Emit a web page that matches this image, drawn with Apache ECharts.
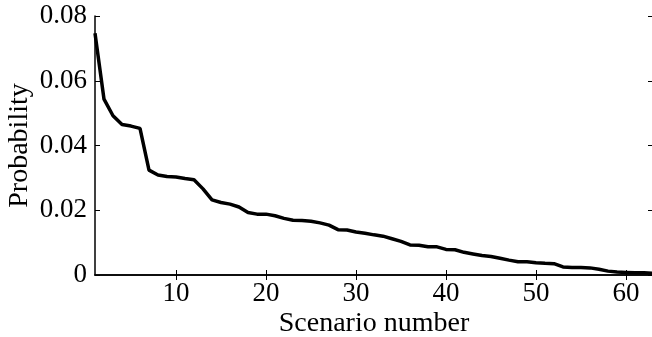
<!DOCTYPE html>
<html>
<head>
<meta charset="utf-8">
<script src="https://cdn.jsdelivr.net/npm/echarts@6/dist/echarts.min.js"></script>
<style>
  html, body { margin: 0; padding: 0; background: #fff; }
  #chart { width: 652px; height: 337px; }
</style>
</head>
<body>
<div id="chart"></div>
<script>
const scenarios = [1, 2, 3, 4, 5, 6, 7, 8, 9, 10, 11, 12, 13, 14, 15, 16, 17, 18, 19, 20,
  21, 22, 23, 24, 25, 26, 27, 28, 29, 30, 31, 32, 33, 34, 35, 36, 37, 38, 39, 40,
  41, 42, 43, 44, 45, 46, 47, 48, 49, 50, 51, 52, 53, 54, 55, 56, 57, 58, 59, 60,
  61, 62, 63];
const probability = [0.0747, 0.0543, 0.0492, 0.0465, 0.0460, 0.0453, 0.0324, 0.0309, 0.0304, 0.0303,
  0.0298, 0.0294, 0.0266, 0.0232, 0.0224, 0.0219, 0.0210, 0.0193, 0.0188, 0.0188,
  0.0183, 0.0175, 0.0169, 0.0168, 0.0166, 0.0161, 0.0154, 0.0140, 0.0139, 0.0133,
  0.0129, 0.0124, 0.0120, 0.0112, 0.0104, 0.0093, 0.0092, 0.0087, 0.0087, 0.0079,
  0.0078, 0.0070, 0.0065, 0.0060, 0.0057, 0.0052, 0.0046, 0.0041, 0.0041, 0.0038,
  0.0036, 0.0035, 0.0025, 0.0023, 0.0023, 0.0022, 0.0018, 0.0012, 0.0009, 0.0008,
  0.0007, 0.0007, 0.0005];
const xTicks = [10, 20, 30, 40, 50, 60];
const yTicks = [0, 0.02, 0.04, 0.06, 0.08];

const font = 'Liberation Serif, Times New Roman, serif';
const points = scenarios.map((s, i) => [s, probability[i]]);

let chart = echarts.init(document.getElementById('chart'), null, {renderer: 'canvas'});
chart.setOption({
  animation: false,
  grid: {
    left: 95,
    top: 16,
    width: 558,
    bottom: 62,
    containLabel: false,
    outerBoundsMode: 'none'
  },
  xAxis: [
    {
      type: 'value',
      min: 1,
      max: 63,
      name: 'Scenario number',
      nameLocation: 'middle',
      nameGap: 35,
      nameMoveOverlap: false,
      nameTextStyle: {color: '#000', fontFamily: font, fontSize: 28},
      axisLine: {lineStyle: {color: '#000', width: 1.5}},
      axisTick: {inside: true, length: 5, customValues: xTicks, lineStyle: {color: '#000'}},
      axisLabel: {customValues: xTicks, color: '#000', fontFamily: font, fontSize: 27, margin: 5},
      splitLine: {show: false}
    },
    {
      type: 'value',
      position: 'top',
      min: 1,
      max: 63,
      axisLine: {lineStyle: {color: '#000', width: 1.5}},
      axisTick: {inside: true, length: 5, customValues: xTicks, lineStyle: {color: '#000'}},
      axisLabel: {show: false},
      splitLine: {show: false}
    }
  ],
  yAxis: [
    {
      type: 'value',
      min: 0,
      max: 0.08,
      interval: 0.02,
      name: 'Probability',
      nameLocation: 'middle',
      nameGap: 61,
      nameMoveOverlap: false,
      nameTextStyle: {color: '#000', fontFamily: font, fontSize: 28},
      axisLine: {show: true, lineStyle: {color: '#000', width: 1.5}},
      axisTick: {show: true, inside: true, length: 5, lineStyle: {color: '#000'}},
      axisLabel: {
        color: '#000', fontFamily: font, fontSize: 27, margin: 8,
        formatter: v => yTicks.includes(+v.toFixed(2)) ? String(+v.toFixed(2)) : ''
      },
      splitLine: {show: false}
    },
    {
      type: 'value',
      position: 'right',
      min: 0,
      max: 0.08,
      interval: 0.02,
      axisLine: {show: true, lineStyle: {color: '#000', width: 1.5}},
      axisTick: {show: true, inside: true, length: 5, lineStyle: {color: '#000'}},
      axisLabel: {show: false},
      splitLine: {show: false}
    }
  ],
  series: [
    {
      name: 'Probability',
      type: 'line',
      data: points,
      showSymbol: false,
      lineStyle: {color: '#000', width: 3.5},
      clip: true
    }
  ]
});
</script>
</body>
</html>
